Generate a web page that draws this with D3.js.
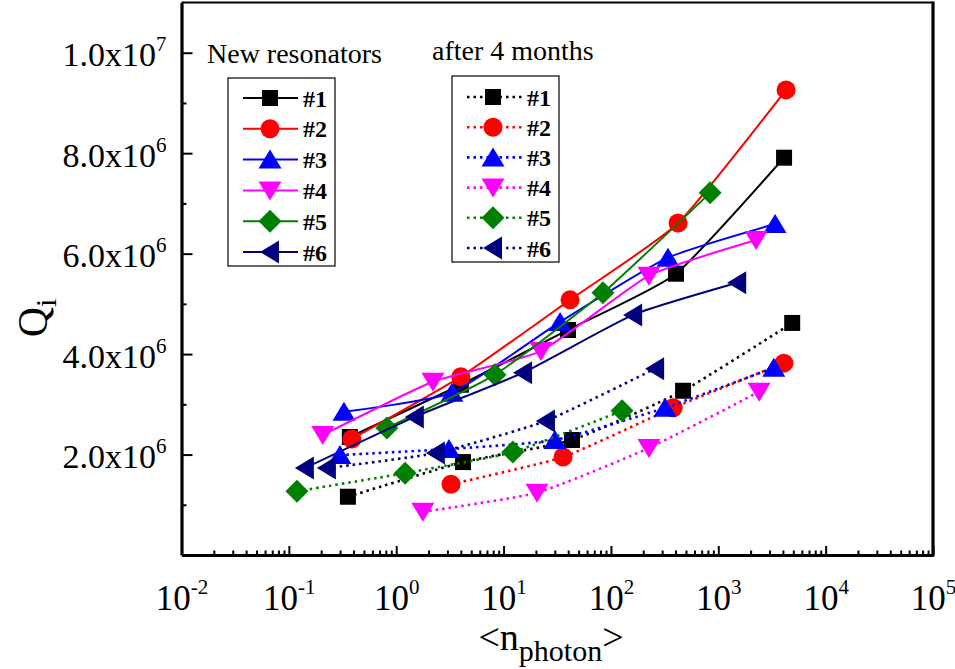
<!DOCTYPE html>
<html lang="en">
<head>
<meta charset="UTF-8">
<title>Qi vs photon number</title>
<script src="https://d3js.org/d3.v7.min.js"></script>
<style>
    html, body { margin: 0; padding: 0; background: #fff; }
    svg { display: block; }
    text { font-family: "Liberation Serif", "Times New Roman", serif; fill: #000; }
</style>
</head>
<body>
<svg id="chart" width="955" height="669"></svg>
<script>
// ---- data (Qi in units of 1e6) ----
const seriesNames = ["#1", "#2", "#3", "#4", "#5", "#6"];

const newPhotons = [
    [0.37, 4.0, 39.8, 404, 4100],
    [0.386, 4.0, 41.6, 422, 4280],
    [0.326, 3.30, 33.6, 340, 3380],
    [0.207, 2.20, 22.3, 226, 2250],
    [0.818, 8.32, 84.3, 839],
    [0.141, 1.49, 15.2, 161, 1500]
];
const newQi = [
    [2.35, 3.39, 4.48, 5.60, 7.91],
    [2.31, 3.55, 5.08, 6.61, 9.26],
    [2.85, 3.23, 4.64, 5.92, 6.59],
    [2.39, 3.45, 4.06, 5.56, 6.27],
    [2.53, 3.59, 5.22, 7.21],
    [1.73, 2.75, 3.63, 4.78, 5.42]
];
const oldPhotons = [
    [0.355, 4.19, 43.4, 470, 4880],
    [3.24, 35.8, 380, 4080],
    [0.299, 3.10, 30.1, 319, 3290],
    [1.77, 20.5, 226, 2400],
    [0.119, 1.21, 12.2, 127],
    [0.226, 2.34, 24.8, 258]
];
const oldQi = [
    [1.16, 1.85, 2.29, 3.27, 4.62],
    [1.41, 1.95, 2.93, 3.82],
    [1.99, 2.11, 2.29, 2.93, 3.73],
    [0.86, 1.24, 2.13, 3.25],
    [1.27, 1.63, 2.05, 2.87],
    [1.73, 2.03, 2.67, 3.71]
];

const xTickExps = [-2, -1, 0, 1, 2, 3, 4, 5];
const yMajorTicks = [2, 4, 6, 8, 10];
const yMinorTicks = [1, 3, 5, 7, 9];
const yTickMantissa = ["2.0", "4.0", "6.0", "8.0", "1.0"];
const yTickExp = ["6", "6", "6", "6", "7"];

// ---- styles ----
const colors = ["#000000", "#ff0000", "#0000ff", "#ff00ff", "#008000", "#000080"];
const shapes = ["square", "circle", "up", "down", "diamond", "left"];

function markerPath(shape) {
    switch (shape) {
        case "square": return "M-8,-8h16v16h-16z";
        case "circle": return "M9.5,0A9.5,9.5 0 1,1 -9.5,0A9.5,9.5 0 1,1 9.5,0z";
        case "up": return "M0,-10L11.5,9L-11.5,9z";
        case "down": return "M0,10L11.5,-9L-11.5,-9z";
        case "diamond": return "M0,-11.5L11.5,0L0,11.5L-11.5,0z";
        case "left": return "M-10,0L9,-11.5L9,11.5z";
    }
}

const svg = d3.select("#chart");

const x = d3.scaleLog().domain([0.01, 1e5]).range([181.5, 933]);
const y = d3.scaleLinear().domain([0, 11]).range([555, 2.5]);

// ---- axes ----
const minorX = [];
for (let e = -2; e < 5; e++) {
    for (let m = 2; m <= 9; m++) minorX.push(m * Math.pow(10, e));
}

svg.append("g")
    .attr("transform", "translate(0,555)")
    .call(d3.axisBottom(x).tickValues(minorX).tickSize(-4.5).tickSizeOuter(0).tickFormat(""))
    .call(g => g.select(".domain").remove())
    .call(g => g.selectAll(".tick line").attr("stroke-width", 2));

const xMajor = svg.append("g")
    .attr("transform", "translate(0,555)")
    .call(d3.axisBottom(x).tickValues(xTickExps.map(e => Math.pow(10, e))).tickSize(-9).tickSizeOuter(0).tickFormat(""))
    .call(g => g.select(".domain").attr("stroke-width", 3.2))
    .call(g => g.selectAll(".tick line").attr("stroke-width", 2));

xMajor.selectAll(".tick").each(function (d, i) {
    const t = d3.select(this).append("text")
        .attr("y", 55)
        .attr("text-anchor", "middle")
        .attr("font-size", 35)
        .attr("fill", "#000");
    t.append("tspan").text("10");
    t.append("tspan").attr("dy", -16).attr("font-size", 21).text(xTickExps[i]);
});

svg.append("g")
    .attr("transform", "translate(181.5,0)")
    .call(d3.axisLeft(y).tickValues(yMinorTicks).tickSize(-5).tickSizeOuter(0).tickFormat(""))
    .call(g => g.select(".domain").remove())
    .call(g => g.selectAll(".tick line").attr("stroke-width", 2));

const yMajor = svg.append("g")
    .attr("transform", "translate(181.5,0)")
    .call(d3.axisLeft(y).tickValues(yMajorTicks).tickSize(-11).tickSizeOuter(0).tickFormat(""))
    .call(g => g.select(".domain").attr("stroke-width", 3.2))
    .call(g => g.selectAll(".tick line").attr("stroke-width", 2));

yMajor.selectAll(".tick").each(function (d, i) {
    const t = d3.select(this).append("text")
        .attr("x", -15)
        .attr("y", 13)
        .attr("text-anchor", "end")
        .attr("font-size", 34)
        .attr("fill", "#000");
    t.append("tspan").text(yTickMantissa[i] + "x10");
    t.append("tspan").attr("dy", -15).attr("font-size", 21).text(yTickExp[i]);
});

// top and right frame
svg.append("line").attr("x1", x.range()[0]).attr("x2", x.range()[1])
    .attr("y1", y(11)).attr("y2", y(11)).attr("stroke", "#000").attr("stroke-width", 2);
svg.append("line").attr("x1", x(1e5)).attr("x2", x(1e5))
    .attr("y1", y(11) - 1).attr("y2", y(0) + 1.6).attr("stroke", "#000").attr("stroke-width", 3.2);

// axis titles
const yTitle = svg.append("text")
    .attr("transform", "translate(47,318) rotate(-90)")
    .attr("text-anchor", "middle")
    .attr("font-size", 42);
yTitle.append("tspan").text("Q");
yTitle.append("tspan").attr("dy", 9).attr("font-size", 30).text("i");

const xTitle = svg.append("text")
    .attr("x", 551).attr("y", 650)
    .attr("text-anchor", "middle")
    .attr("font-size", 38);
xTitle.append("tspan").text("<n");
xTitle.append("tspan").attr("dy", 11).attr("font-size", 30).text("photon");
xTitle.append("tspan").attr("dy", -11).text(">");

// ---- data series ----
const line = d3.line()
    .x(d => x(d[0]))
    .y(d => y(d[1]))
    .curve(d3.curveCardinal.tension(0.5));

function drawSeries(photons, qi, dashed) {
    photons.forEach((ns, i) => {
        const pts = ns.map((n, k) => [n, qi[i][k]]);
        const g = svg.append("g");
        g.append("path")
            .attr("d", line(pts))
            .attr("fill", "none")
            .attr("stroke", colors[i])
            .attr("stroke-width", dashed ? 2.6 : 2)
            .attr("stroke-dasharray", dashed ? "2.5,4" : null);
        g.selectAll("path.mk")
            .data(pts)
            .join("path")
            .attr("class", "mk")
            .attr("d", markerPath(shapes[i]))
            .attr("transform", d => `translate(${x(d[0])},${y(d[1])})`)
            .attr("fill", colors[i]);
    });
}

drawSeries(newPhotons, newQi, false);
drawSeries(oldPhotons, oldQi, true);

// ---- legends ----
function legend(title, tx, ty, bx, by, bw, bh, rowY, rowGap, lx1, lx2, mx, textX, dashed) {
    svg.append("text").attr("x", tx).attr("y", ty).attr("font-size", 28).text(title);
    svg.append("rect").attr("x", bx).attr("y", by).attr("width", bw).attr("height", bh)
        .attr("fill", "#fff").attr("stroke", "#000").attr("stroke-width", 1.2);
    seriesNames.forEach((name, i) => {
        const yy = rowY + i * rowGap;
        svg.append("line").attr("x1", lx1).attr("x2", lx2).attr("y1", yy).attr("y2", yy)
            .attr("stroke", colors[i]).attr("stroke-width", dashed ? 2.6 : 2)
            .attr("stroke-dasharray", dashed ? "2.5,4" : null);
        svg.append("path").attr("d", markerPath(shapes[i]))
            .attr("transform", `translate(${mx},${yy})`).attr("fill", colors[i]);
        svg.append("text").attr("x", textX).attr("y", yy + 8.5)
            .attr("font-size", 24).attr("font-weight", "bold").text(name);
    });
}

legend("New resonators", 207, 63, 228, 78, 107, 188, 98, 30.8, 243, 298, 270, 303, false);
legend("after 4 months", 432, 60, 452, 76, 107, 186, 97, 30.2, 467, 522, 493, 527, true);
</script>
</body>
</html>
